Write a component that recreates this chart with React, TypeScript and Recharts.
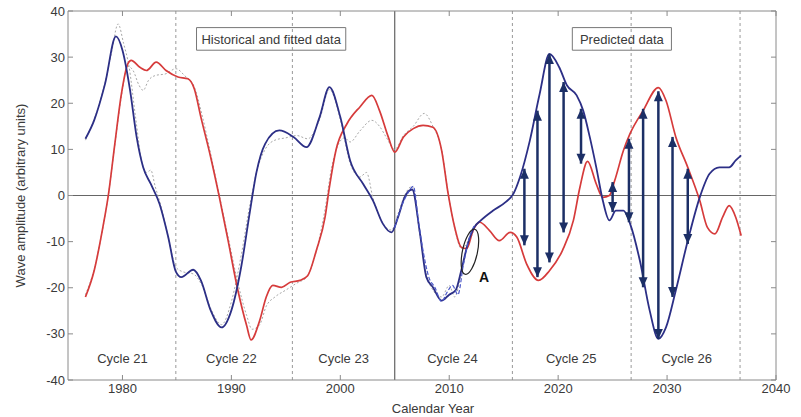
import React from "react";
import {
  ComposedChart,
  Line,
  Scatter,
  XAxis,
  YAxis,
  ReferenceLine,
  ReferenceArea,
  ReferenceDot,
} from "recharts";

const FONT = "'Liberation Sans', Arial, sans-serif";
const BLUE = "#2c2f86";
const RED = "#d63b3b";
const ARROW = "#1c2f66";
const AXIS = "#8a8a8a";
const TXT = "#3a3a3a";

const xTicks = [1980, 1990, 2000, 2010, 2020, 2030, 2040];
const yTicks = [-40, -30, -20, -10, 0, 10, 20, 30, 40];

// cycle boundaries (dashed) and "now" (solid)
const cycleEdges = [1984.9, 1995.6, 2015.8, 2026.7, 2036.7];
const nowYear = 2005;
const cycleNames = ["Cycle 21", "Cycle 22", "Cycle 23", "Cycle 24", "Cycle 25", "Cycle 26"];
const cycleCentres = [1980, 1990, 2000.3, 2010.3, 2021.2, 2031.8];

// fitted wave 1 (blue)
const blueYears = [
  1976.6, 1977.4, 1978.4, 1979.4, 1980.0, 1980.7, 1981.3, 1981.9, 1982.6, 1983.4,
  1984.2, 1984.9, 1985.4, 1986.5, 1987.2, 1988.1, 1989.1, 1990.0, 1990.9, 1991.7,
  1992.3, 1993.1, 1994.4, 1995.7, 1996.9, 1998.1, 1999.0, 2000.0, 2000.9, 2002.1,
  2003.0, 2003.9, 2004.7, 2005.3, 2005.9, 2006.6, 2007.3, 2007.9, 2008.5, 2009.3,
  2010.0, 2010.6, 2011.1, 2011.7, 2012.3, 2012.9, 2014.0, 2015.2, 2015.9, 2016.5,
  2017.4, 2018.3, 2019.2, 2020.1, 2020.8, 2021.7, 2022.3, 2022.9, 2023.5, 2024.1,
  2024.7, 2025.3, 2026.0, 2026.6, 2027.5, 2028.4, 2029.2, 2029.9, 2030.8, 2031.9,
  2033.0, 2033.9, 2034.8, 2035.7, 2036.3, 2036.8,
];
const blueVals = [
  12.3, 16.3, 24.2, 34.5, 31.5, 22.8, 12.7, 6.1, 2.5, -1.8,
  -9.0, -16.5, -17.7, -16.1, -18.4, -24.9, -28.6, -24.9, -15.5, -3.5,
  5.0, 11.2, 14.1, 12.7, 10.5, 17.0, 23.5, 17.0, 7.6, 2.5,
  -1.1, -6.1, -8.0, -4.7, -0.4, 1.3, -8.0, -17.7, -19.9, -22.8,
  -21.5, -20.5, -16.3, -10.5, -6.9, -5.4, -3.3, -1.4, 0.4, 4.0,
  11.9, 22.0, 30.7, 27.8, 23.9, 21.7, 18.4, 12.7, 6.1, -1.1,
  -5.4, -3.3, -3.3, -6.1, -14.1, -24.9, -31.1, -28.6, -20.6, -9.8,
  -0.4, 4.7, 6.1, 6.1, 7.6, 8.7,
];

// fitted wave 2 (red)
const redYears = [
  1976.6, 1977.4, 1978.2, 1978.7, 1979.3, 1979.9, 1980.5, 1980.8, 1981.6, 1982.2,
  1983.1, 1984.0, 1985.1, 1986.0, 1986.6, 1987.2, 1988.1, 1988.9, 1989.7, 1990.6,
  1991.4, 1991.8, 1992.6, 1993.2, 1993.8, 1994.6, 1995.4, 1996.3, 1997.0, 1997.8,
  1998.6, 1999.0, 1999.6, 2000.6, 2001.8, 2002.9, 2003.6, 2004.4, 2005.0, 2005.8,
  2006.7, 2007.6, 2008.5, 2009.3, 2009.9, 2010.5, 2011.1, 2011.6, 2012.2, 2012.8,
  2013.7, 2014.6, 2015.6, 2016.2, 2017.1, 2018.2, 2019.2, 2020.4, 2021.4, 2022.0,
  2022.7, 2023.5, 2024.1, 2024.7, 2025.2, 2026.0, 2026.6, 2027.8, 2029.2, 2029.9,
  2030.8, 2031.9, 2033.0, 2033.7, 2034.4, 2035.1, 2035.7, 2036.3, 2036.8,
];
const redVals = [
  -22.0, -16.3, -6.9, 0.0, 11.2, 22.0, 28.6, 29.3, 27.8, 27.1,
  28.9, 27.1, 25.7, 25.3, 23.1, 17.0, 8.3, -0.4, -9.8, -20.6,
  -28.2, -31.3, -27.1, -22.0, -19.5, -19.9, -18.8, -18.4, -17.4, -11.9,
  -4.7, 1.8, 9.8, 15.5, 19.2, 21.7, 18.4, 12.7, 9.4, 12.7,
  14.5, 15.2, 14.8, 9.8, 0.4, -6.9, -11.2, -11.5, -7.5, -5.8,
  -7.6, -9.8, -8.0, -9.0, -14.8, -18.4, -16.3, -11.9, -5.4, 1.8,
  7.4, 2.5, -0.4, 0.0, 3.3, 9.8, 13.4, 18.4, 23.4, 20.6,
  12.7, 6.1, -1.1, -6.9, -8.3, -4.7, -2.2, -4.7, -8.7,
];

// historical data, component 1 (grey dotted)
const hist1Years = [
  1976.6, 1977.4, 1978.4, 1979.0, 1979.6, 1980.1, 1980.6, 1981.2, 1981.8, 1982.2,
  1982.6, 1983.0, 1983.5, 1984.2, 1984.9, 1985.5, 1986.5, 1987.3, 1988.2, 1989.1,
  1990.0, 1990.9, 1991.7, 1992.3, 1993.1, 1994.0, 1995.0, 1996.0, 1997.0, 1998.1,
  1999.0, 2000.0, 2000.9, 2001.8, 2002.4, 2003.0, 2003.9, 2004.7, 2005.3, 2005.9,
  2006.6, 2007.3, 2007.9, 2008.5, 2009.3, 2010.0, 2010.5, 2011.1, 2011.7, 2012.2,
];
const hist1Vals = [
  12.0, 16.5, 24.5, 31.0, 37.2, 33.0, 28.0, 17.0, 7.0, 5.0,
  5.5, 2.0, -2.0, -9.0, -15.5, -16.5, -17.0, -19.5, -25.0, -28.0,
  -23.0, -13.0, -2.0, 5.0, 10.0, 12.0, 12.5, 13.0, 12.3, 16.5,
  23.0, 16.5, 7.0, 4.0, 5.0, -0.5, -6.0, -7.5, -4.0, 0.0,
  2.0, -8.5, -17.0, -20.5, -22.0, -19.5, -22.0, -17.0, -11.0, -8.0,
];

// historical data, component 2 (grey dotted)
const hist2Years = [
  1976.6, 1977.4, 1978.2, 1978.7, 1979.3, 1979.9, 1980.5, 1981.0, 1981.5, 1981.9,
  1982.4, 1983.0, 1984.0, 1984.9, 1985.7, 1986.6, 1987.3, 1988.1, 1988.9, 1989.7,
  1990.6, 1991.4, 1991.9, 1992.6, 1993.2, 1994.0, 1995.0, 1996.0, 1996.9, 1997.8,
  1998.6, 1999.2, 1999.8, 2000.4, 2000.9, 2001.8, 2002.9, 2003.6, 2004.2, 2005.0,
  2005.8, 2006.7, 2007.7, 2008.5, 2009.3, 2009.9, 2010.5, 2011.1, 2011.7, 2012.2,
];
const hist2Vals = [
  -21.5, -16.0, -7.0, 0.0, 11.0, 21.5, 28.0, 27.0, 24.0, 22.8,
  25.0, 26.0, 26.4, 27.5, 26.0, 23.5, 17.5, 9.0, 0.0, -9.0,
  -19.0, -26.0, -29.0, -28.0, -24.0, -22.0, -20.5, -19.0, -17.7, -12.0,
  -3.0, 6.0, 11.0, 12.5, 11.6, 14.0, 16.3, 15.0, 12.7, 10.0,
  13.0, 15.0, 17.8, 15.0, 10.0, 0.5, -7.0, -11.5, -10.0, -7.0,
];

// recent observations overlaying wave 1 (blue dashed)
const recentYears = [
  2005.0, 2005.6, 2006.2, 2006.7, 2007.2, 2007.6, 2008.1, 2008.7, 2009.3, 2009.8,
  2010.3, 2010.8, 2011.3, 2011.8, 2012.3,
];
const recentVals = [
  -7.0, -2.5, 0.5, 2.0, -6.0, -12.0, -17.5, -20.0, -23.0, -21.0,
  -19.5, -21.5, -15.0, -9.5, -6.5,
];

// arrows between the two predicted waves
const arrowYears = [2016.9, 2018.1, 2019.2, 2020.5, 2022.1, 2025.0, 2026.5, 2027.8, 2029.2, 2030.5, 2031.9];
const arrowHigh = [5.8, 18.4, 30.7, 24.6, 18.8, 2.9, 12.3, 18.8, 22.6, 12.7, 5.8];
const arrowLow = [-10.8, -17.7, -14.5, -8.0, 6.9, -3.6, -5.8, -19.9, -31.1, -22.0, -10.5];

const pts = (xs: number[], ys: number[]) => xs.map((x, i) => ({ x, y: ys[i] }));

const bluePts = pts(blueYears, blueVals);
const redPts = pts(redYears, redVals);
const hist1Pts = pts(hist1Years, hist1Vals);
const hist2Pts = pts(hist2Years, hist2Vals);
const recentPts = pts(recentYears, recentVals);
const headTop = pts(arrowYears, arrowHigh);
const headBottom = pts(arrowYears, arrowLow);

const UpHead = (p: any) => (
  <path d={`M${p.cx},${p.cy} L${p.cx - 4.5},${p.cy + 10} L${p.cx + 4.5},${p.cy + 10} Z`} fill={ARROW} />
);
const DownHead = (p: any) => (
  <path d={`M${p.cx},${p.cy} L${p.cx - 4.5},${p.cy - 10} L${p.cx + 4.5},${p.cy - 10} Z`} fill={ARROW} />
);

const Ellipse = (p: any) => (
  <ellipse
    cx={p.cx}
    cy={p.cy}
    rx={7.5}
    ry={23}
    transform={`rotate(12 ${p.cx} ${p.cy})`}
    fill="none"
    stroke="#222"
    strokeWidth={1.2}
  />
);

const labelStyle = { fill: TXT, fontSize: 13, fontFamily: FONT };
const blank = () => "";

export default function App() {
  return (
    <div style={{ position: "absolute", left: 0, top: 0, background: "#fff" }}>
      <ComposedChart width={801} height={417} margin={{ top: 11, right: 25, bottom: 0, left: 10 }}>
        <XAxis
          dataKey="x"
          type="number"
          domain={[1975, 2040]}
          ticks={xTicks}
          allowDataOverflow
          tickLine={false}
          tickSize={0}
          tickMargin={4}
          height={37}
          axisLine={{ stroke: AXIS }}
          tick={labelStyle}
          label={{ value: "Calendar Year", position: "insideBottom", offset: 4, dx: 11, ...labelStyle }}
        />
        <YAxis
          type="number"
          domain={[-40, 40]}
          ticks={yTicks}
          allowDataOverflow
          tickLine={false}
          tickSize={0}
          tickMargin={3}
          width={58}
          axisLine={{ stroke: AXIS }}
          tick={labelStyle}
          label={{ value: "Wave amplitude (arbitrary units)", angle: -90, position: "center", dx: -19, ...labelStyle }}
        />
        {/* inward tick marks and box border */}
        <XAxis xAxisId="top" dataKey="x" orientation="top" type="number" domain={[1975, 2040]} ticks={xTicks} allowDataOverflow mirror tickFormatter={blank} tickSize={5} axisLine={{ stroke: AXIS }} tickLine={{ stroke: AXIS }} />
        <XAxis xAxisId="inb" dataKey="x" orientation="bottom" type="number" domain={[1975, 2040]} ticks={xTicks} allowDataOverflow mirror tickFormatter={blank} tickSize={5} axisLine={false} tickLine={{ stroke: AXIS }} />
        <YAxis yAxisId="inl" orientation="left" type="number" domain={[-40, 40]} ticks={yTicks} allowDataOverflow mirror tickFormatter={blank} tickSize={5} axisLine={false} tickLine={{ stroke: AXIS }} />
        <YAxis yAxisId="right" orientation="right" type="number" domain={[-40, 40]} ticks={yTicks} allowDataOverflow mirror tickFormatter={blank} tickSize={5} axisLine={{ stroke: AXIS }} tickLine={{ stroke: AXIS }} />

        <ReferenceLine y={0} stroke="#666" />
        {cycleEdges.map((yr) => (
          <ReferenceLine key={yr} x={yr} stroke="#999" strokeDasharray="3 3" />
        ))}
        <ReferenceLine x={nowYear} stroke="#444" />

        <ReferenceArea x1={1986.8} x2={2000.5} y1={31.5} y2={36.4} fill="#fff" fillOpacity={1} stroke="#777"
          label={{ value: "Historical and fitted data", position: "center", ...labelStyle }} />
        <ReferenceArea x1={2021.3} x2={2030.4} y1={31.5} y2={36.4} fill="#fff" fillOpacity={1} stroke="#777"
          label={{ value: "Predicted data", position: "center", ...labelStyle }} />

        {cycleNames.map((name, i) => (
          <ReferenceDot key={name} x={cycleCentres[i]} y={-35.3} r={0} fill="none" stroke="none"
            label={{ value: name, position: "center", ...labelStyle }} />
        ))}

        {/* invisible copies so the border axes get a domain */}
        <Line data={bluePts} dataKey="y" xAxisId="top" yAxisId="right" stroke="none" dot={false} isAnimationActive={false} />
        <Line data={bluePts} dataKey="y" xAxisId="inb" yAxisId="inl" stroke="none" dot={false} isAnimationActive={false} />

        <Line data={hist1Pts} dataKey="y" type="monotone" stroke="#a8a8a8" strokeWidth={1} strokeDasharray="2 2" dot={false} isAnimationActive={false} />
        <Line data={hist2Pts} dataKey="y" type="monotone" stroke="#a8a8a8" strokeWidth={1} strokeDasharray="2 2" dot={false} isAnimationActive={false} />
        <Line data={redPts} dataKey="y" type="monotone" stroke={RED} strokeWidth={1.7} dot={false} isAnimationActive={false} />
        <Line data={bluePts} dataKey="y" type="monotone" stroke={BLUE} strokeWidth={1.8} dot={false} isAnimationActive={false} />
        <Line data={recentPts} dataKey="y" type="monotone" stroke="#4b57c8" strokeWidth={1.2} strokeDasharray="4 2" dot={false} isAnimationActive={false} />

        {arrowYears.map((yr, i) => (
          <ReferenceLine key={`a${yr}`} segment={[{ x: yr, y: arrowLow[i] }, { x: yr, y: arrowHigh[i] }]} stroke={ARROW} strokeWidth={2.5} />
        ))}
        <Scatter data={headTop} dataKey="y" shape={UpHead} isAnimationActive={false} />
        <Scatter data={headBottom} dataKey="y" shape={DownHead} isAnimationActive={false} />

        <ReferenceDot x={2011.9} y={-12.2} r={0} shape={Ellipse} />
        <ReferenceDot x={2013.2} y={-17.6} r={0} fill="none" stroke="none"
          label={{ value: "A", position: "center", fill: "#111", fontSize: 14, fontWeight: 700, fontFamily: FONT }} />
      </ComposedChart>
    </div>
  );
}
